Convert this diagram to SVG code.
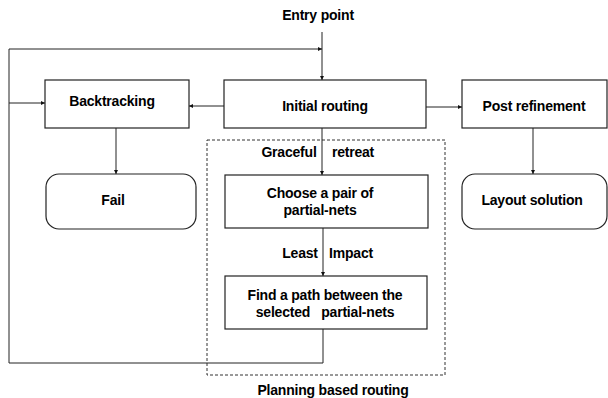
<svg xmlns="http://www.w3.org/2000/svg" width="608" height="398" viewBox="0 0 608 398">
<defs>
<marker id="ah" viewBox="0 0 6 6" refX="6" refY="3" markerWidth="4" markerHeight="4" orient="auto" markerUnits="userSpaceOnUse">
<path d="M0,0 L6,3 L0,6 z" fill="#111"/>
</marker>
</defs>
<style>
.box{fill:#fff;stroke:#222;stroke-width:1.2}
.dash{fill:none;stroke:#333;stroke-width:1;stroke-dasharray:3,2}
.ln{fill:none;stroke:#222;stroke-width:1}
.arr{fill:none;stroke:#222;stroke-width:1;marker-end:url(#ah)}
text{font-family:"Liberation Sans",Arial,sans-serif;font-weight:bold;font-size:14px;fill:#000;text-anchor:middle;letter-spacing:-0.2px}
</style>
<rect width="608" height="398" fill="#fff"/>

<rect id="planning-region" class="dash" x="207" y="140" width="238" height="235"/>

<g id="connectors">
<path class="arr" d="M322,32 V80"/>
<path class="arr" d="M9,49 H322"/>
<path class="ln" d="M9,49 V363"/>
<path class="arr" d="M9,103 H45"/>
<path class="arr" d="M224,106 H189"/>
<path class="arr" d="M426,107 H462"/>
<path class="arr" d="M116,128 V174"/>
<path class="arr" d="M533,128 V174"/>
<path class="arr" d="M322,128 V175"/>
<path class="arr" d="M323,228 V276"/>
<path class="ln" d="M323,329 V363"/>
<path class="ln" d="M9,363 H323"/>
</g>

<g id="entry-point"><text x="318" y="20">Entry point</text></g>

<g id="backtracking">
<rect class="box" x="45" y="80" width="144" height="48"/>
<text x="112" y="106">Backtracking</text>
</g>

<g id="initial-routing">
<rect class="box" x="224" y="80" width="202" height="48"/>
<text x="325" y="111">Initial routing</text>
</g>

<g id="post-refinement">
<rect class="box" x="462" y="80" width="145" height="48"/>
<text x="534" y="111">Post refinement</text>
</g>

<g id="fail">
<rect class="box" x="46" y="174" width="150" height="55" rx="13"/>
<text x="113" y="205">Fail</text>
</g>

<g id="layout-solution">
<rect class="box" x="462" y="174" width="145" height="55" rx="13"/>
<text x="532" y="205">Layout solution</text>
</g>

<g id="choose-pair">
<rect class="box" x="225" y="175" width="203" height="53"/>
<text x="320" y="198">Choose a pair of</text>
<text x="320" y="215">partial-nets</text>
</g>

<g id="find-path">
<rect class="box" x="225" y="276" width="202" height="53"/>
<text x="325" y="300">Find a path between the</text>
<text x="325" y="317">selected&#160;&#160; partial-nets</text>
</g>

<g id="labels">
<text x="289" y="157">Graceful</text>
<text x="353" y="157">retreat</text>
<text x="300" y="258">Least</text>
<text x="351" y="258">Impact</text>
<text x="333" y="395">Planning based routing</text>
</g>
</svg>
